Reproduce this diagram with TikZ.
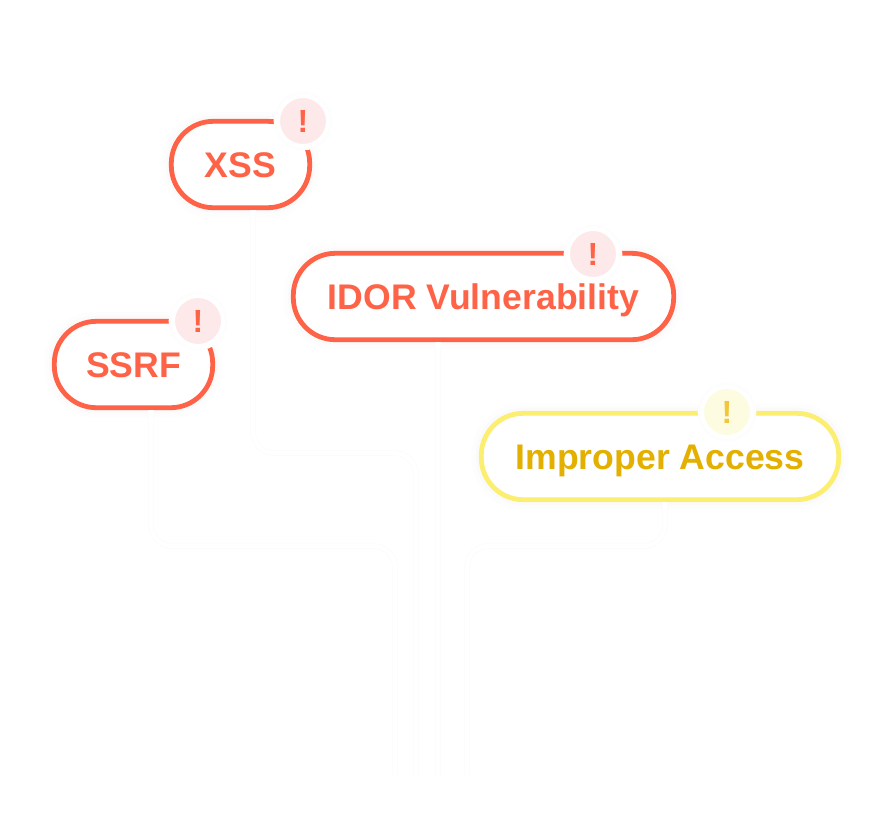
\documentclass[tikz,border=0pt]{standalone}
\usepackage{fontspec}
\setmainfont{Liberation Sans}
\definecolor{alertred}{HTML}{FF6347}
\definecolor{alertpink}{HTML}{FDE8EA}
\definecolor{warnline}{HTML}{FBEE70}
\definecolor{warntext}{HTML}{E3B000}
\definecolor{warnpale}{HTML}{FDFCE0}
\definecolor{warnmark}{HTML}{F3C53B}
\definecolor{wireedge}{HTML}{FCFCFC}
\definecolor{glowA}{HTML}{FDFDFD}
\definecolor{glowB}{HTML}{FAFAFA}
\tikzset{every picture/.style={line width=0.75pt}}
\tikzset{
	pill/.style={draw, fill=white, rectangle, rounded corners=31.5pt, line width=3.6pt, minimum height=64.8pt, inner sep=0pt,
		text height=19pt, text depth=0pt,
		font=\fontsize{26.7}{30}\selectfont\bfseries,
		preaction={draw=glowA, line width=15pt},
		preaction={draw=glowB, line width=8pt}},
	redpill/.style={pill, draw=alertred, text=alertred},
	yellowpill/.style={pill, draw=warnline, text=warntext},
	badge/.style={circle, draw=white, line width=3pt, minimum size=37.5pt, inner sep=0pt,
		font=\fontsize{24}{28}\selectfont\bfseries,
		preaction={draw=glowA, line width=6.5pt}},
	redbadge/.style={badge, fill=alertpink, text=alertred},
	yellowbadge/.style={badge, fill=warnpale, text=warnmark},
	wire/.style={draw=wireedge, double=white, double distance=3pt, line width=0.75pt, rounded corners=16pt}
}
\begin{document}
\begin{tikzpicture}[x=0.75pt,y=0.75pt,yscale=-1,xscale=1]
	\useasboundingbox (0,0) rectangle (874,833);

	% Pills
	\node [redpill, minimum width=103.8pt] (xss) at (240.5,164.5) {XSS};
	\node [redpill, minimum width=285.3pt] (idor) at (483.5,296.5) {IDOR Vulnerability};
	\node [redpill, minimum width=118.8pt] (ssrf) at (133.5,364.5) {SSRF};
	\node [yellowpill, minimum width=268.05pt] (access) at (660,456.5) {Improper Access};

	% Badges
	\node [redbadge] (xssmark) at (303,121) {!};
	\node [redbadge] (idormark) at (593,254) {!};
	\node [redbadge] (ssrfmark) at (198,321) {!};
	\node [yellowbadge] (accessmark) at (727,412) {!};

	% Free ends
	\coordinate (xssdrop) at (253,453);
	\coordinate (xssturn) at (416,453);
	\coordinate (xssend) at (416,775);
	\coordinate (ssrfdrop) at (151,546);
	\coordinate (ssrfturn) at (395,546);
	\coordinate (ssrfend) at (395,775);
	\coordinate (idorend) at (438,775);
	\coordinate (accessdrop) at (665,546);
	\coordinate (accessturn) at (467,546);
	\coordinate (accessend) at (467,775);

	% Connectors
	\draw [wire] (xss.south -| xssdrop) -- (xssdrop) -- (xssturn) -- (xssend);
	\draw [wire] (ssrf.south -| ssrfdrop) -- (ssrfdrop) -- (ssrfturn) -- (ssrfend);
	\draw [wire] (idor.south -| idorend) -- (idorend);
	\draw [wire] (access.south -| accessdrop) -- (accessdrop) -- (accessturn) -- (accessend);
\end{tikzpicture}
\end{document}
